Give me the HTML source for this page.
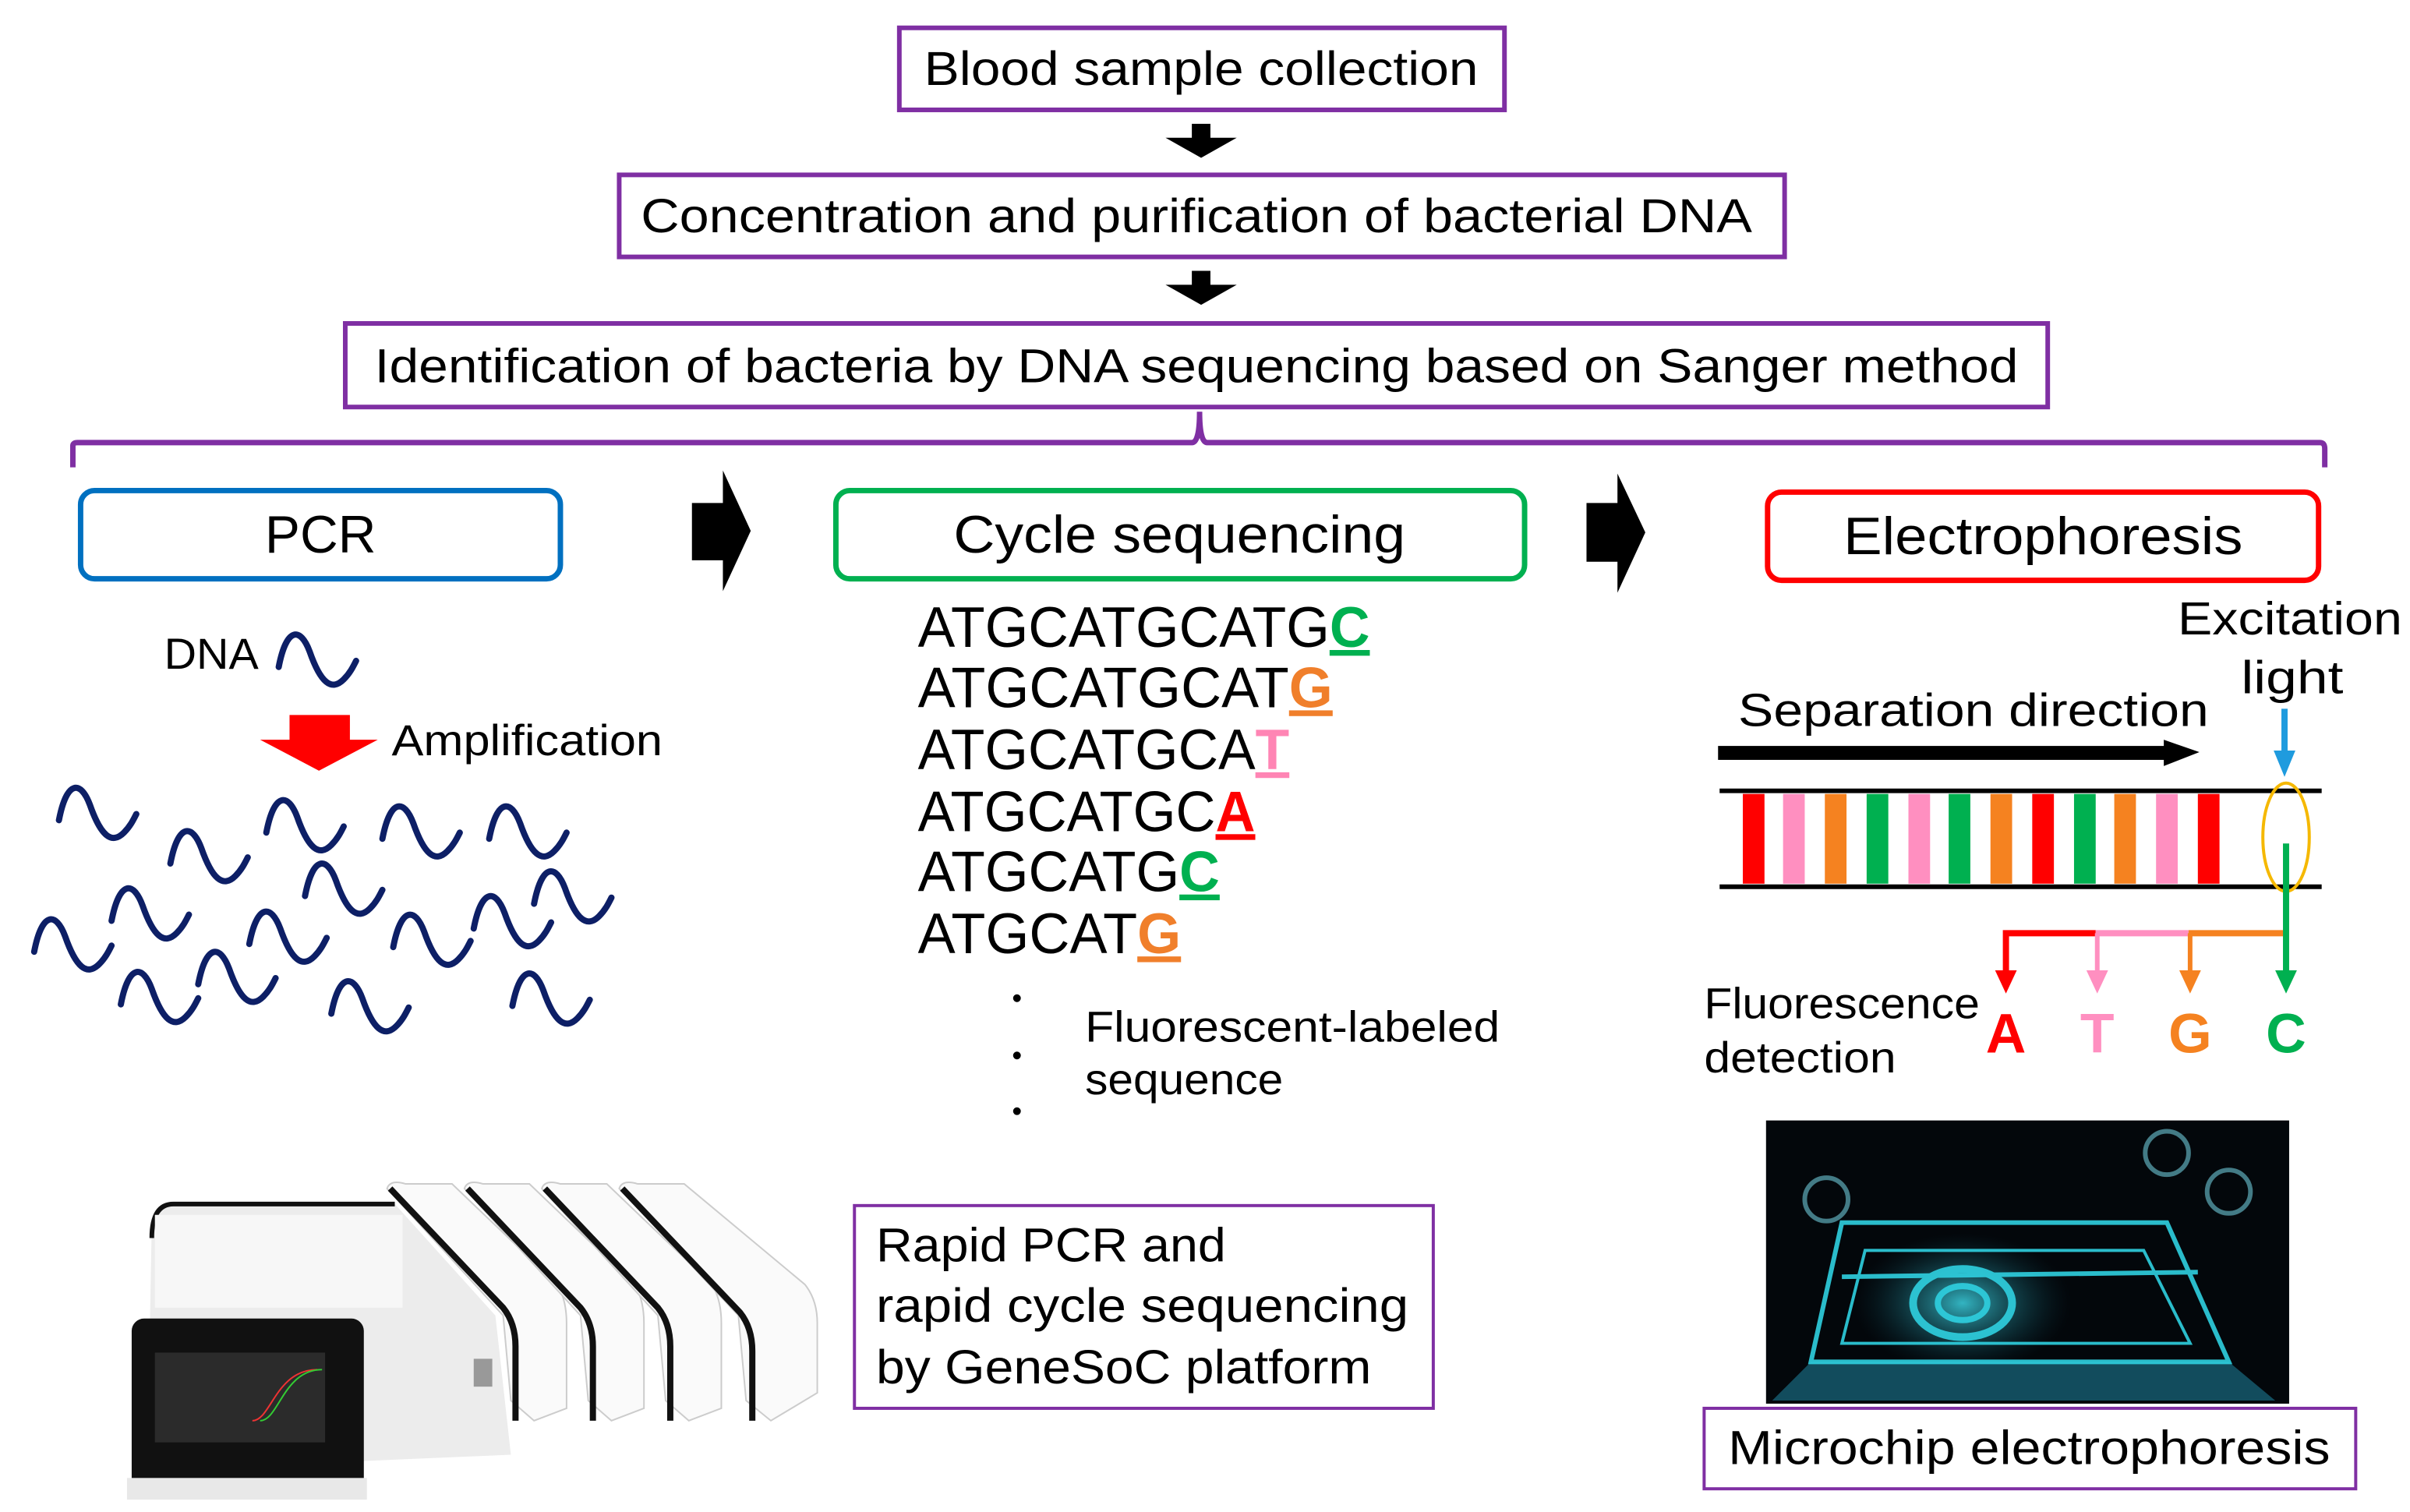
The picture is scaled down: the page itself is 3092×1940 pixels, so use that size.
<!DOCTYPE html>
<html><head><meta charset="utf-8"><style>html,body{margin:0;padding:0;background:#fff}svg{display:block}</style></head><body>
<svg width="3092" height="1940" viewBox="0 0 1557 977" xmlns="http://www.w3.org/2000/svg" font-family="Liberation Sans, sans-serif">
<defs>
<path id="w" d="M0,22 C5,-4 14,-4 20,12 C27,32 34,38 42,30 C46,26 48,22 50,18" fill="none" stroke="#0d1f66" stroke-width="4" stroke-linecap="round"/>
<radialGradient id="glow" cx="0.5" cy="0.5" r="0.5"><stop offset="0" stop-color="#3fe0f0" stop-opacity="0.8"/><stop offset="1" stop-color="#0a3a48" stop-opacity="0"/></radialGradient>
</defs>
<rect width="1557" height="977" fill="#fff"/>
<rect x="581" y="18" width="391" height="53" fill="#fff" stroke="#7f2fa3" stroke-width="3"/>
<text x="776" y="55" font-size="31" text-anchor="middle" textLength="358" lengthAdjust="spacingAndGlyphs">Blood sample collection</text>
<polygon points="770,80 782,80 782,89 799,89 776,102 753,89 770,89" fill="#000"/>
<rect x="400" y="113" width="753" height="53" fill="#fff" stroke="#7f2fa3" stroke-width="3"/>
<text x="773" y="150" font-size="31" text-anchor="middle" textLength="718" lengthAdjust="spacingAndGlyphs">Concentration and purification of bacterial DNA</text>
<polygon points="770,175 782,175 782,184 799,184 776,197 753,184 770,184" fill="#000"/>
<rect x="223" y="209" width="1100" height="54" fill="#fff" stroke="#7f2fa3" stroke-width="3"/>
<text x="773" y="247" font-size="31" text-anchor="middle" textLength="1062" lengthAdjust="spacingAndGlyphs">Identification of bacteria by DNA sequencing based on Sanger method</text>
<path d="M47,302 V288 Q47,286 50,286 H770 Q775,286 775,266 Q775,286 780,286 H1499 Q1502,286 1502,290 V302" fill="none" stroke="#7f2fa3" stroke-width="3.5"/>
<rect x="52" y="317" width="310" height="57" rx="9" fill="#fff" stroke="#0070c0" stroke-width="3.5"/>
<text x="207" y="357" font-size="34" text-anchor="middle">PCR</text>
<polygon points="447,325 467,325 467,304 485,343 467,382 467,362 447,362" fill="#000"/>
<rect x="540" y="317" width="445" height="57" rx="9" fill="#fff" stroke="#00b050" stroke-width="3.5"/>
<text x="762" y="357" font-size="34" text-anchor="middle" textLength="292" lengthAdjust="spacingAndGlyphs">Cycle sequencing</text>
<polygon points="1025,325 1045,325 1045,306 1063,344 1045,383 1045,363 1025,363" fill="#000"/>
<rect x="1142" y="318" width="356" height="57" rx="9" fill="#fff" stroke="#ff0000" stroke-width="3.5"/>
<text x="1320" y="358" font-size="34" text-anchor="middle" textLength="258" lengthAdjust="spacingAndGlyphs">Electrophoresis</text>
<text x="106" y="432" font-size="28" textLength="61" lengthAdjust="spacingAndGlyphs">DNA</text>
<use href="#w" x="180" y="409"/>
<polygon points="187,462 226,462 226,478 244,478 206,498 168,478 187,478" fill="#ff0000"/>
<text x="253" y="488" font-size="28" textLength="175" lengthAdjust="spacingAndGlyphs">Amplification</text>
<g>
<use href="#w" x="38" y="508"/><use href="#w" x="110" y="536"/><use href="#w" x="172" y="516"/>
<use href="#w" x="247" y="520"/><use href="#w" x="316" y="520"/><use href="#w" x="72" y="573"/>
<use href="#w" x="197" y="557"/><use href="#w" x="345" y="562"/><use href="#w" x="22" y="593"/>
<use href="#w" x="161" y="588"/><use href="#w" x="254" y="590"/><use href="#w" x="306" y="578"/>
<use href="#w" x="78" y="627"/><use href="#w" x="128" y="614"/><use href="#w" x="214" y="633"/>
<use href="#w" x="331" y="628"/>
</g>
<g font-size="37">
<text x="593" y="418" textLength="292" lengthAdjust="spacingAndGlyphs">ATGCATGCATG<tspan fill="#00b050" font-weight="bold" text-decoration="underline">C</tspan></text>
<text x="593" y="457" textLength="268" lengthAdjust="spacingAndGlyphs">ATGCATGCAT<tspan fill="#f07f2b" font-weight="bold" text-decoration="underline">G</tspan></text>
<text x="593" y="497" textLength="240" lengthAdjust="spacingAndGlyphs">ATGCATGCA<tspan fill="#ff85b4" font-weight="bold" text-decoration="underline">T</tspan></text>
<text x="593" y="537" textLength="218" lengthAdjust="spacingAndGlyphs">ATGCATGC<tspan fill="#ff0000" font-weight="bold" text-decoration="underline">A</tspan></text>
<text x="593" y="576" textLength="195" lengthAdjust="spacingAndGlyphs">ATGCATG<tspan fill="#00b050" font-weight="bold" text-decoration="underline">C</tspan></text>
<text x="593" y="616" textLength="170" lengthAdjust="spacingAndGlyphs">ATGCAT<tspan fill="#f07f2b" font-weight="bold" text-decoration="underline">G</tspan></text>
</g>
<circle cx="657" cy="645" r="2.5"/><circle cx="657" cy="682" r="2.5"/><circle cx="657" cy="718" r="2.5"/>
<text x="701" y="673" font-size="28" textLength="268" lengthAdjust="spacingAndGlyphs">Fluorescent-labeled</text>
<text x="701" y="707" font-size="28" textLength="128" lengthAdjust="spacingAndGlyphs">sequence</text>
<text x="1407" y="410" font-size="30" textLength="145" lengthAdjust="spacingAndGlyphs">Excitation</text>
<text x="1481" y="448" font-size="30" text-anchor="middle" textLength="66" lengthAdjust="spacingAndGlyphs">light</text>
<text x="1123" y="469" font-size="30" textLength="304" lengthAdjust="spacingAndGlyphs">Separation direction</text>
<rect x="1110" y="482" width="290" height="9" fill="#000"/>
<polygon points="1398,478 1421,486 1398,495" fill="#000"/>
<line x1="1476" y1="458" x2="1476" y2="488" stroke="#1f9bde" stroke-width="4"/>
<polygon points="1469,485 1483,485 1476,502" fill="#1f9bde"/>
<line x1="1111" y1="511" x2="1500" y2="511" stroke="#000" stroke-width="3"/>
<line x1="1111" y1="573" x2="1500" y2="573" stroke="#000" stroke-width="3"/>
<g>
<rect x="1126" y="513" width="14" height="58" fill="#ff0000"/>
<rect x="1152" y="513" width="14" height="58" fill="#ff8fc0"/>
<rect x="1179" y="513" width="14" height="58" fill="#f58220"/>
<rect x="1206" y="513" width="14" height="58" fill="#00b050"/>
<rect x="1233" y="513" width="14" height="58" fill="#ff8fc0"/>
<rect x="1259" y="513" width="14" height="58" fill="#00b050"/>
<rect x="1286" y="513" width="14" height="58" fill="#f58220"/>
<rect x="1313" y="513" width="14" height="58" fill="#ff0000"/>
<rect x="1340" y="513" width="14" height="58" fill="#00b050"/>
<rect x="1366" y="513" width="14" height="58" fill="#f58220"/>
<rect x="1393" y="513" width="14" height="58" fill="#ff8fc0"/>
<rect x="1420" y="513" width="14" height="58" fill="#ff0000"/>
</g>
<ellipse cx="1477" cy="541" rx="15" ry="35" fill="none" stroke="#f5b800" stroke-width="2"/>
<line x1="1477" y1="545" x2="1477" y2="630" stroke="#00b050" stroke-width="4"/>
<polyline points="1296,630 1296,603 1354,603" fill="none" stroke="#ff0000" stroke-width="4"/>
<polyline points="1354,603 1414,603" stroke="#ff8fc0" stroke-width="4"/>
<line x1="1355" y1="603" x2="1355" y2="630" stroke="#ff8fc0" stroke-width="3"/>
<polyline points="1414,603 1475,603" stroke="#f58220" stroke-width="4"/>
<line x1="1415" y1="603" x2="1415" y2="630" stroke="#f58220" stroke-width="3"/>
<polygon points="1289,627 1303,627 1296,642" fill="#ff0000"/>
<polygon points="1348,627 1362,627 1355,642" fill="#ff8fc0"/>
<polygon points="1408,627 1422,627 1415,642" fill="#f58220"/>
<polygon points="1470,627 1484,627 1477,642" fill="#00b050"/>
<g font-size="36" font-weight="bold" text-anchor="middle">
<text x="1296" y="680" fill="#ff0000">A</text>
<text x="1355" y="680" fill="#ff8fc0">T</text>
<text x="1415" y="680" fill="#f58220">G</text>
<text x="1477" y="680" fill="#00b050">C</text>
</g>
<text x="1101" y="658" font-size="28" textLength="178" lengthAdjust="spacingAndGlyphs">Fluorescence</text>
<text x="1101" y="693" font-size="28" textLength="124" lengthAdjust="spacingAndGlyphs">detection</text>
<rect x="1141" y="724" width="338" height="183" fill="#03070b"/>
<ellipse cx="1268" cy="842" rx="70" ry="45" fill="url(#glow)"/>
<polygon points="1170,880 1440,880 1470,905 1145,905" fill="#1a6a80" opacity="0.7"/>
<g fill="none" stroke="#2fd0e0" stroke-width="3" opacity="0.9">
<polygon points="1190,790 1400,790 1440,880 1170,880"/>
<polygon points="1205,808 1385,808 1415,868 1190,868" stroke-width="2"/>
<line x1="1190" y1="825" x2="1420" y2="822"/>
<ellipse cx="1268" cy="842" rx="32" ry="22" stroke-width="5"/>
<ellipse cx="1268" cy="842" rx="16" ry="11" stroke-width="4"/>
<circle cx="1180" cy="775" r="14" stroke="#4a8894"/>
<circle cx="1400" cy="745" r="14" stroke="#4a8894"/>
<circle cx="1440" cy="770" r="14" stroke="#4a8894"/>
</g>
<rect x="1101" y="910" width="421" height="52" fill="#fff" stroke="#7f2fa3" stroke-width="2"/>
<text x="1311" y="946" font-size="31" text-anchor="middle" textLength="389" lengthAdjust="spacingAndGlyphs">Microchip electrophoresis</text>
<rect x="552" y="779" width="374" height="131" fill="#fff" stroke="#7f2fa3" stroke-width="2"/>
<g font-size="31">
<text x="566" y="815" textLength="226" lengthAdjust="spacingAndGlyphs">Rapid PCR and</text>
<text x="566" y="854" textLength="344" lengthAdjust="spacingAndGlyphs">rapid cycle sequencing</text>
<text x="566" y="894" textLength="320" lengthAdjust="spacingAndGlyphs">by GeneSoC platform</text>
</g>
<g>
<path d="M98,790 Q98,778 112,778 L255,778 L320,850 L330,940 L95,950 Z" fill="#ececec"/>
<path d="M98,800 Q98,778 112,778 L255,778" fill="none" stroke="#111" stroke-width="3"/>
<rect x="100" y="785" width="160" height="60" fill="#f7f7f7"/>
<path d="M250,768 Q252,762 262,765 L292,765 L360,830 Q366,840 366,855 L366,910 L345,918 L330,905 L325,850 Z" fill="#fafafa" stroke="#ccc"/>
<path d="M300,768 Q302,762 312,765 L342,765 L410,830 Q416,840 416,855 L416,910 L395,918 L380,905 L375,850 Z" fill="#fafafa" stroke="#ccc"/>
<path d="M350,768 Q352,762 362,765 L392,765 L460,830 Q466,840 466,855 L466,910 L445,918 L430,905 L425,850 Z" fill="#fafafa" stroke="#ccc"/>
<path d="M400,768 Q402,762 412,765 L442,765 L520,830 Q528,840 528,855 L528,900 L498,918 L482,905 L477,850 Z" fill="#fafafa" stroke="#ccc"/>
<path d="M252,768 L325,845 Q333,855 333,870 L333,918" fill="none" stroke="#111" stroke-width="4"/>
<path d="M302,768 L375,845 Q383,855 383,870 L383,918" fill="none" stroke="#111" stroke-width="4"/>
<path d="M352,768 L425,845 Q433,855 433,870 L433,918" fill="none" stroke="#111" stroke-width="4"/>
<path d="M402,768 L478,848 Q486,858 486,873 L486,918" fill="none" stroke="#111" stroke-width="4"/>
<rect x="306" y="878" width="12" height="18" fill="#999"/>
<rect x="85" y="852" width="150" height="115" rx="8" fill="#111"/>
<rect x="82" y="955" width="155" height="14" fill="#e8e8e8"/>
<rect x="100" y="874" width="110" height="58" fill="#2b2b2b"/>
<path d="M163,918 C175,918 178,885 205,885" fill="none" stroke="#e33" stroke-width="1"/>
<path d="M168,918 C180,918 183,885 208,885" fill="none" stroke="#3c3" stroke-width="1"/>
</g>
</svg>
</body></html>
